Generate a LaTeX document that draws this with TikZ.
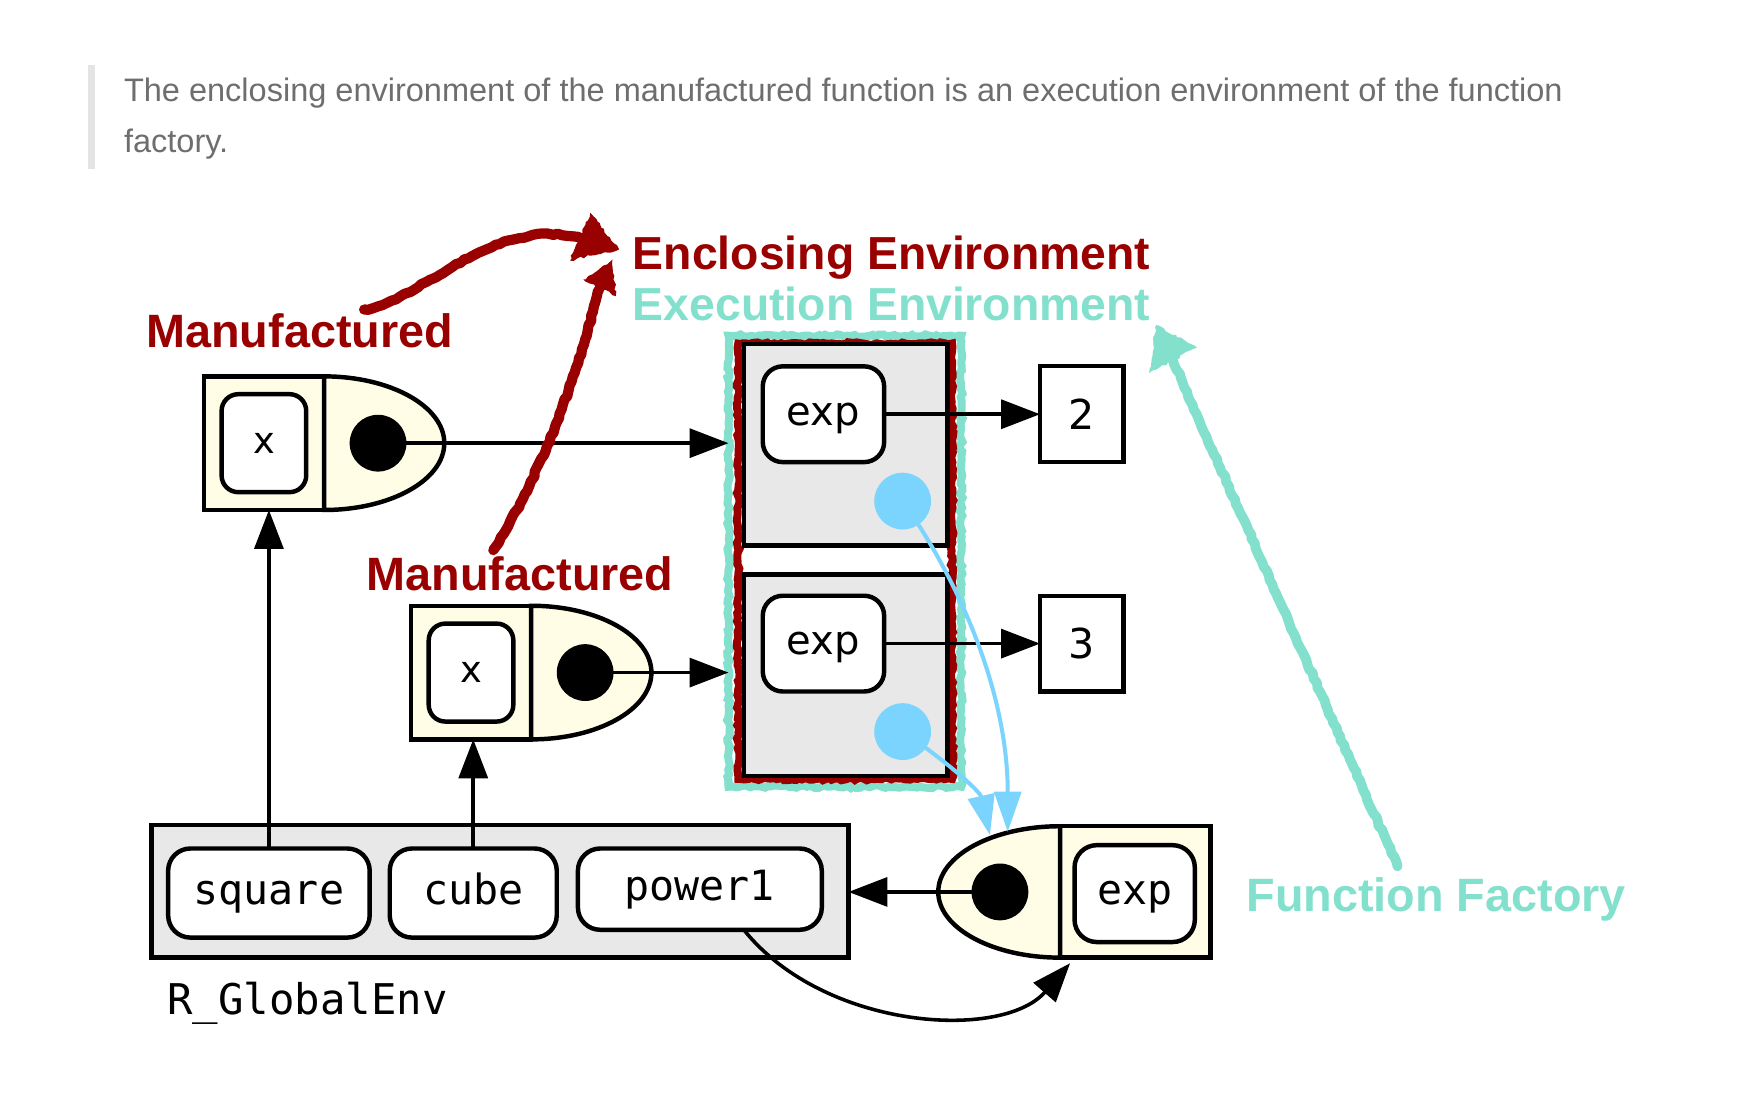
\documentclass[tikz,border=0pt]{standalone}
\usepackage{fontspec}
\setmainfont{Liberation Sans}
\newfontfamily\dvs{DejaVu Sans}
\newfontfamily\dvm{DejaVu Sans Mono}
\usetikzlibrary{arrows.meta,decorations.pathmorphing,calc}
\definecolor{encred}{HTML}{990000}
\definecolor{exteal}{HTML}{82E0CD}
\definecolor{ptblue}{HTML}{7AD4FD}
\definecolor{cream}{HTML}{FFFDE5}
\definecolor{envgray}{HTML}{E8E8E8}
\definecolor{quotegray}{HTML}{6E6E6E}
\definecolor{bargray}{HTML}{E4E4E4}
\begin{document}
\begin{tikzpicture}[x=0.5pt,y=-0.5pt,
  quote/.style={anchor=base west,inner sep=0,text=quotegray,font=\fontsize{14.6}{17}\selectfont},
  lblred/.style={anchor=base west,inner sep=0,text=encred,font=\fontsize{21}{25}\selectfont\bfseries},
  lblteal/.style={anchor=base west,inner sep=0,text=exteal,font=\fontsize{21}{25}\selectfont\bfseries},
  conn/.style={line width=1.6pt,-{Triangle[length=17.5pt,width=13pt]}},
  bconn/.style={draw=ptblue,line width=1.8pt,-{Triangle[length=18pt,width=12pt]}},
  envbox/.style={draw,fill=envgray,line width=2.1pt,inner sep=0,outer sep=0},
  valbox/.style={draw,fill=white,line width=2pt,rounded corners=9pt,inner sep=0,outer sep=0,
    font=\dvs\fontsize{18}{20}\selectfont,text height=9.8pt,text depth=0pt},
  xbox/.style={draw,fill=white,line width=2pt,rounded corners=7.5pt,inner sep=0,outer sep=0,
    minimum width=38pt,minimum height=44pt,font=\dvs\fontsize{16.5}{18}\selectfont},
  numbox/.style={draw,fill=white,line width=1.9pt,inner sep=0,outer sep=0,
    minimum width=37.5pt,minimum height=43pt,font=\dvs\fontsize{18.5}{20}\selectfont},
  monobox/.style={draw,fill=white,line width=2pt,rounded corners=10pt,inner sep=0,outer sep=0,
    font=\dvm\fontsize{18.7}{20}\selectfont,text height=10.2pt,text depth=0pt},
  monolbl/.style={anchor=base west,inner sep=0,font=\dvm\fontsize{19}{20}\selectfont},
  fnrect/.style={draw,fill=cream,line width=2pt,inner sep=0,outer sep=0},
  fnD/.style={draw,fill=cream,line width=2pt},
  kdot/.style={circle,fill=black,minimum size=25.5pt,inner sep=0,outer sep=0},
  bdot/.style={circle,fill=ptblue,minimum size=25.5pt,inner sep=0,outer sep=0},
  rough/.style={decorate,decoration={random steps,segment length=1.6pt,amplitude=0.6pt}},
  handrough/.style={decorate,decoration={random steps,segment length=2.2pt,amplitude=0.45pt}},
  tealframe/.style={draw=exteal,line width=3.6pt,inner sep=0,outer sep=0,rough},
  redframe/.style={draw=encred,line width=3.6pt,inner sep=0,outer sep=0,rough},
  redhand/.style={draw=encred,line width=4.6pt,line cap=round,line join=round,handrough},
  tealhand/.style={draw=exteal,line width=4.4pt,line cap=round,line join=round,handrough},
]
\pgfmathsetseed{7}
\fill[white] (0,0) rectangle (1568,984);
\useasboundingbox (0,0) rectangle (1568,984);

% quote
\fill[bargray] (79,58) rectangle (85,152);
\node[quote] (q1) at (111,91) {The enclosing environment of the manufactured function is an execution environment of the function};
\node[quote] (q2) at (111,137) {factory.};

% labels
\node[lblred,font=\fontsize{20.8}{25}\selectfont\bfseries] (enc) at (568,242) {Enclosing Environment};
\node[lblteal,font=\fontsize{20.8}{25}\selectfont\bfseries] (exe) at (568,288) {Execution Environment};
\node[lblred] (man1) at (131,312) {Manufactured};
\node[lblred] (man2) at (329,530) {Manufactured};
\node[lblteal] (ff) at (1119,819) {Function Factory};

% execution / enclosing frames
\node[tealframe,minimum width=104.5pt,minimum height=202.5pt] (execframe) at (758.75,504) {};
\node[redframe,minimum width=96pt,minimum height=195.5pt] (encframe) at (759,504) {};

% execution environments
\node[envbox,minimum width=91.5pt,minimum height=90.5pt] (env1) at (759.5,399.5) {};
\node[envbox,minimum width=91.5pt,minimum height=90.5pt] (env2) at (759.5,606.5) {};
\node[valbox,minimum width=54.5pt,minimum height=43pt] (e1exp) at (739.5,372) {exp};
\node[valbox,minimum width=54.5pt,minimum height=43pt] (e2exp) at (739.5,578) {exp};
\node[numbox] (v2) at (971.5,372) {2};
\node[numbox] (v3) at (971.5,578) {3};
\draw[conn] (e1exp.east) -- (v2.west);
\draw[conn] (e2exp.east) -- (v3.west);

% global environment
\node[envbox,minimum width=313pt,minimum height=59.5pt] (genv) at (449,800.5) {};
\node[monobox,minimum width=90.5pt,minimum height=40pt] (sq) at (241.5,802) {square};
\node[monobox,minimum width=75pt,minimum height=40pt] (cu) at (425,802) {cube};
\node[monobox,minimum width=109.5pt,minimum height=36.5pt] (pw) at (628.5,798.5) {power1};
\node[monolbl] (gl) at (150,911) {R\_GlobalEnv};

% manufactured function 1
\node[fnrect,minimum width=54pt,minimum height=60pt] (f1rect) at (237,398) {};
\draw[fnD] (f1rect.north east) arc[start angle=90,end angle=-90,x radius=54pt,y radius=30pt] -- cycle;
\node[xbox] (f1x) at (237,398) {x};
\node[kdot] (f1dot) at (339.5,398) {};
\draw[conn] (f1dot.center) -- (f1dot.center -| execframe.west);

% manufactured function 2
\node[fnrect,minimum width=54pt,minimum height=60pt] (f2rect) at (423,604) {};
\draw[fnD] (f2rect.north east) arc[start angle=90,end angle=-90,x radius=54pt,y radius=30pt] -- cycle;
\node[xbox] (f2x) at (423,604) {x};
\node[kdot] (f2dot) at (525.5,604) {};
\draw[conn] (f2dot.center) -- (f2dot.center -| execframe.west);

% function factory
\node[fnrect,minimum width=67.5pt,minimum height=59pt] (facrect) at (1019.5,801) {};
\draw[fnD] (facrect.north west) arc[start angle=90,end angle=270,x radius=54.7pt,y radius=29.5pt] -- cycle;
\node[monobox,minimum width=54pt,minimum height=43.5pt] (facexp) at (1019,802.5) {exp};
\node[kdot] (facdot) at (898,801) {};
\draw[conn] (facdot.center) -- (facdot.center -| genv.east);

% bindings
\draw[conn] (sq.north) -- (sq.north |- f1rect.south);
\draw[conn] (cu.north) -- (cu.north |- f2rect.south);
\draw[conn] ([xshift=19.75pt]pw.south) .. controls (740,925) and (900,935) .. ([xshift=4.5pt,yshift=-2.5pt]facrect.south west);

% blue pointers to the factory
\node[bdot] (b1) at (810.6,450) {};
\node[bdot] (b2) at (810.6,657) {};
\coordinate (fin1) at (889,750);
\coordinate (fin2) at (905,747);
\draw[bconn] (b1.center) .. controls (860,520) and (905,620) .. (fin2);
\draw[bconn] (b2.center) .. controls (845,680) and (880,710) .. (fin1);

% hand-drawn annotation arrows
\coordinate (ra0) at (327,278);
\coordinate (ra1) at (520,213);
\draw[redhand] (ra0) .. controls (380,270) and (440,195) .. (ra1);
\fill[encred,rough] (556,224) -- (530,191) -- (512,234) -- cycle;
\coordinate (rb0) at (443,494);
\coordinate (rb1) at (538,260);
\draw[redhand] (rb0) .. controls (490,420) and (520,330) .. (rb1);
\fill[encred,rough] (550,233) -- (524,251) -- (553,266) -- cycle;
\coordinate (tc0) at (1255,778);
\coordinate (tc1) at (1053,323);
\draw[tealhand] (tc0) -- (tc1);
\fill[exteal,rough] (1038,292) -- (1075,312) -- (1032,335) -- cycle;
\end{tikzpicture}
\end{document}
